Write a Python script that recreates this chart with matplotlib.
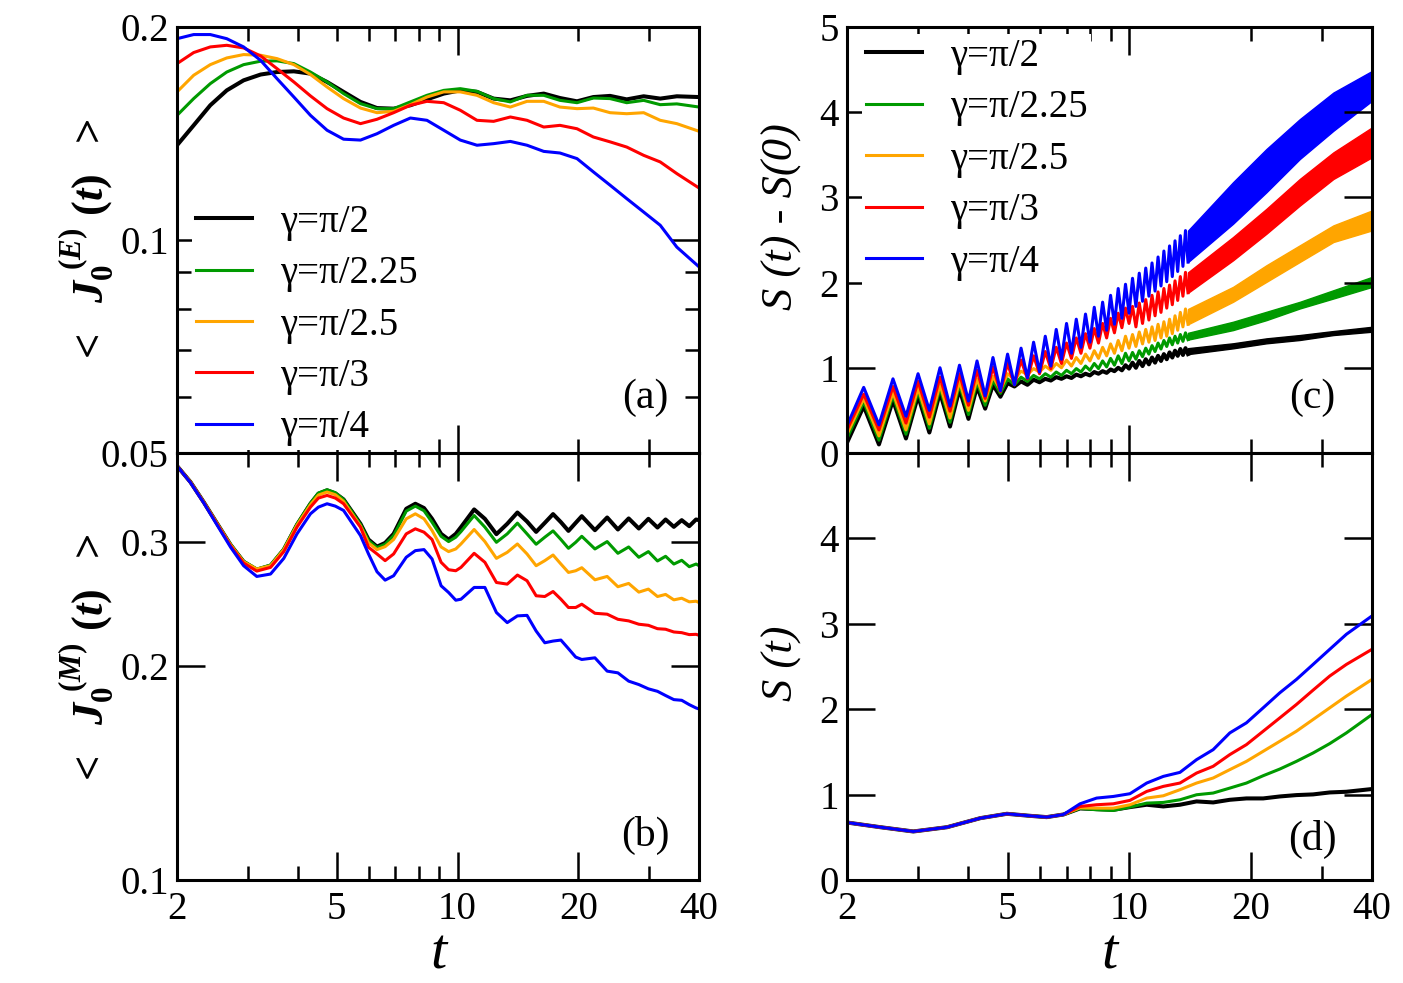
import matplotlib
matplotlib.use('Agg')
import matplotlib.pyplot as plt
from matplotlib.ticker import NullFormatter, NullLocator

plt.rcParams['font.family'] = ['Liberation Serif', 'DejaVu Serif']
plt.rcParams['mathtext.fontset'] = 'custom'
plt.rcParams['mathtext.rm'] = 'Liberation Serif:bold'
plt.rcParams['mathtext.it'] = 'Liberation Serif:italic:bold'
plt.rcParams['mathtext.bf'] = 'Liberation Serif:bold'

labels = ['γ=π/2', 'γ=π/2.25', 'γ=π/2.5', 'γ=π/3', 'γ=π/4']
colors = ['black', '#009a00', '#ffa500', '#ff0000', '#0000ff']
widths = [2.9, 2.2, 2.2, 2.2, 2.2]

# (a) <J0^(E)(t)>
t_a = [2.00, 2.20, 2.42, 2.66, 2.93, 3.23, 3.55, 3.91, 4.30, 4.73, 5.20, 5.73, 6.30, 6.93, 7.63, 8.39,
       9.24, 10.16, 11.18, 12.3, 13.54, 14.9, 16.4, 18.0, 19.85, 21.8, 24.0, 26.4, 29.1, 32.0, 35.2, 40.0]
a_black = [0.1361, 0.1452, 0.1550, 0.1627, 0.1681, 0.1713, 0.1727, 0.1731, 0.1718, 0.1672, 0.1619, 0.1567,
           0.1536, 0.1533, 0.1550, 0.1580, 0.1610, 0.1627, 0.1619, 0.1584, 0.1575, 0.1598, 0.1610, 0.1587,
           0.1570, 0.1592, 0.1598, 0.1580, 0.1596, 0.1584, 0.1596, 0.1592]
a_green = [0.1500, 0.1584, 0.1663, 0.1727, 0.1769, 0.1789, 0.1791, 0.1775, 0.1727, 0.1672, 0.1610, 0.1558,
           0.1533, 0.1533, 0.1567, 0.1601, 0.1627, 0.1636, 0.1622, 0.1584, 0.1567, 0.1601, 0.1601, 0.1575,
           0.1563, 0.1587, 0.1584, 0.1563, 0.1575, 0.1553, 0.1557, 0.1541]
a_orange = [0.1619, 0.1709, 0.1769, 0.1808, 0.1828, 0.1824, 0.1804, 0.1769, 0.1713, 0.1645, 0.1584, 0.1536,
            0.1513, 0.1520, 0.1553, 0.1592, 0.1619, 0.1619, 0.1601, 0.1563, 0.1541, 0.1570, 0.1570, 0.1541,
            0.1533, 0.1536, 0.1513, 0.1508, 0.1513, 0.1476, 0.1460, 0.1424]
a_red = [0.1775, 0.1840, 0.1874, 0.1884, 0.1868, 0.1820, 0.1746, 0.1672, 0.1598, 0.1533, 0.1487, 0.1460,
         0.1481, 0.1513, 0.1550, 0.1570, 0.1563, 0.1525, 0.1476, 0.1471, 0.1492, 0.1476, 0.1444, 0.1452,
         0.1436, 0.1398, 0.1376, 0.1353, 0.1317, 0.1289, 0.1241, 0.1184]
a_blue = [0.1925, 0.1951, 0.1951, 0.1925, 0.1874, 0.1794, 0.1690, 0.1592, 0.1500, 0.1429, 0.1388, 0.1384,
          0.1413, 0.1452, 0.1487, 0.1476, 0.1429, 0.1384, 0.1361, 0.1368, 0.1378, 0.1361, 0.1334, 0.1327,
          0.1303, 0.1248, 0.1195, 0.1144, 0.1095, 0.1049, 0.0977, 0.0916]

# (b) <J0^(M)(t)>
t_b = [2.0, 2.16, 2.33, 2.52, 2.72, 2.93, 3.16, 3.42, 3.69, 3.98, 4.3, 4.5, 4.73, 4.96, 5.2, 5.73, 6.0,
       6.3, 6.6, 6.93, 7.45, 7.85, 8.25, 8.64, 9.1, 9.5, 9.9, 10.2, 11.0, 11.7, 12.5, 13.3, 14.1, 14.9,
       15.7, 16.5, 17.3, 18.1, 18.9, 19.7, 20.4, 22.0, 23.6, 25.1, 26.7, 28.3, 29.9, 31.5, 33.0, 34.6,
       36.2, 37.8, 39.3, 40.0]
b_black = [0.3835, 0.3640, 0.3411, 0.3178, 0.2968, 0.2810, 0.2738, 0.2774, 0.2923, 0.3168, 0.3392, 0.3504,
           0.3543, 0.3508, 0.3440, 0.3178, 0.3020, 0.2951, 0.2987, 0.3076, 0.3337, 0.3392, 0.3345, 0.3230,
           0.3076, 0.3020, 0.3076, 0.3144, 0.3330, 0.3230, 0.3073, 0.3178, 0.3297, 0.3202, 0.3096, 0.3188,
           0.3280, 0.3195, 0.3106, 0.3188, 0.3258, 0.3113, 0.3244, 0.3120, 0.3234, 0.3130, 0.3230, 0.3140,
           0.3223, 0.3147, 0.3216, 0.3154, 0.3223, 0.3216]
b_green = [0.3835, 0.3640, 0.3411, 0.3178, 0.2971, 0.2814, 0.2744, 0.2780, 0.2929, 0.3175, 0.3399, 0.3512,
           0.3550, 0.3516, 0.3440, 0.3171, 0.3010, 0.2942, 0.2974, 0.3059, 0.3312, 0.3366, 0.3316, 0.3195,
           0.3052, 0.3000, 0.3043, 0.3099, 0.3265, 0.3144, 0.2993, 0.3076, 0.3185, 0.3076, 0.2974, 0.3043,
           0.3106, 0.3020, 0.2935, 0.2993, 0.3052, 0.2929, 0.3000, 0.2888, 0.2948, 0.2851, 0.2904, 0.2817,
           0.2860, 0.2789, 0.2823, 0.2765, 0.2789, 0.2774]
b_orange = [0.3835, 0.3640, 0.3411, 0.3178, 0.2968, 0.2810, 0.2744, 0.2774, 0.2923, 0.3164, 0.3381, 0.3489,
            0.3524, 0.3493, 0.3418, 0.3154, 0.2987, 0.2923, 0.2951, 0.3020, 0.3230, 0.3283, 0.3230, 0.3110,
            0.2948, 0.2904, 0.2929, 0.2977, 0.3120, 0.3000, 0.2841, 0.2897, 0.2977, 0.2882, 0.2774, 0.2820,
            0.2872, 0.2789, 0.2714, 0.2729, 0.2756, 0.2650, 0.2679, 0.2591, 0.2619, 0.2546, 0.2571, 0.2510,
            0.2527, 0.2483, 0.2496, 0.2467, 0.2472, 0.2461]
b_red = [0.3835, 0.3636, 0.3407, 0.3171, 0.2958, 0.2798, 0.2726, 0.2759, 0.2904, 0.3144, 0.3355, 0.3455,
         0.3485, 0.3455, 0.3392, 0.3144, 0.2945, 0.2882, 0.2820, 0.2882, 0.3076, 0.3127, 0.3093, 0.3020,
         0.2805, 0.2738, 0.2729, 0.2759, 0.2888, 0.2805, 0.2627, 0.2613, 0.2691, 0.2642, 0.2516, 0.2510,
         0.2551, 0.2488, 0.2422, 0.2422, 0.2448, 0.2377, 0.2370, 0.2331, 0.2319, 0.2294, 0.2286, 0.2261,
         0.2257, 0.2237, 0.2232, 0.2218, 0.2220, 0.2213]
b_blue = [0.3835, 0.3632, 0.3403, 0.3161, 0.2945, 0.2774, 0.2679, 0.2700, 0.2841, 0.3076, 0.3283, 0.3355,
          0.3392, 0.3366, 0.3319, 0.3059, 0.2882, 0.2720, 0.2647, 0.2685, 0.2851, 0.2913, 0.2923, 0.2835,
          0.2599, 0.2543, 0.2480, 0.2488, 0.2585, 0.2585, 0.2383, 0.2306, 0.2357, 0.2361, 0.2244, 0.2160,
          0.2172, 0.2179, 0.2119, 0.2062, 0.2046, 0.2057, 0.1970, 0.1959, 0.1907, 0.1886, 0.1860, 0.1845,
          0.1820, 0.1796, 0.1792, 0.1767, 0.1748, 0.1742]

# (c) S(t)-S(0): single teeth up to t=14, then a dense band (lower/upper edge)
t_teeth = [2.0, 2.2, 2.4, 2.6, 2.8, 3.0, 3.2, 3.4, 3.6, 3.8, 4.0, 4.2, 4.4, 4.6, 4.8, 5.0, 5.2, 5.4, 5.6,
           5.8, 6.0, 6.2, 6.4, 6.6, 6.8, 7.0, 7.2, 7.4, 7.6, 7.8, 8.0, 8.2, 8.4, 8.6, 8.8, 9.0, 9.2, 9.4,
           9.6, 9.8, 10.0, 10.2, 10.4, 10.6, 10.8, 11.0, 11.2, 11.4, 11.6, 11.8, 12.0, 12.2, 12.4, 12.6,
           12.8, 13.0, 13.2, 13.4, 13.6, 13.8, 14.0]
c_black = [0.12, 0.55, 0.10, 0.62, 0.17, 0.67, 0.24, 0.71, 0.31, 0.75, 0.40, 0.78, 0.52, 0.80, 0.66, 0.82,
           0.78, 0.84, 0.80, 0.86, 0.83, 0.87, 0.85, 0.89, 0.87, 0.90, 0.88, 0.92, 0.90, 0.93, 0.91, 0.95,
           0.93, 0.96, 0.94, 0.98, 0.96, 1.00, 0.97, 1.03, 0.99, 1.06, 1.00, 1.08, 1.02, 1.10, 1.04, 1.12,
           1.06, 1.14, 1.08, 1.16, 1.10, 1.18, 1.12, 1.20, 1.14, 1.22, 1.15, 1.23, 1.16]
c_green = [0.17, 0.60, 0.15, 0.67, 0.22, 0.72, 0.29, 0.76, 0.36, 0.80, 0.45, 0.83, 0.56, 0.85, 0.70, 0.87,
           0.80, 0.89, 0.84, 0.91, 0.87, 0.93, 0.89, 0.95, 0.91, 0.97, 0.93, 0.99, 0.95, 1.02, 0.97, 1.05,
           0.99, 1.08, 1.01, 1.11, 1.03, 1.14, 1.05, 1.17, 1.08, 1.18, 1.10, 1.20, 1.13, 1.23, 1.16, 1.26,
           1.19, 1.29, 1.22, 1.32, 1.25, 1.35, 1.27, 1.37, 1.29, 1.39, 1.31, 1.41, 1.33]
c_orange = [0.22, 0.64, 0.20, 0.71, 0.27, 0.76, 0.34, 0.80, 0.41, 0.84, 0.50, 0.87, 0.61, 0.90, 0.74, 0.93,
            0.86, 0.96, 0.92, 0.99, 0.95, 1.02, 0.97, 1.05, 1.00, 1.09, 1.02, 1.12, 1.05, 1.16, 1.08, 1.20,
            1.11, 1.24, 1.14, 1.28, 1.17, 1.32, 1.20, 1.37, 1.23, 1.39, 1.25, 1.42, 1.28, 1.45, 1.30, 1.48,
            1.32, 1.51, 1.35, 1.54, 1.37, 1.57, 1.40, 1.61, 1.44, 1.65, 1.48, 1.69, 1.51]
c_red = [0.27, 0.69, 0.27, 0.78, 0.35, 0.84, 0.42, 0.89, 0.49, 0.93, 0.56, 0.97, 0.64, 1.01, 0.72, 1.05,
         0.80, 1.09, 0.87, 1.14, 0.93, 1.19, 0.99, 1.24, 1.05, 1.29, 1.11, 1.35, 1.17, 1.40, 1.23, 1.46,
         1.29, 1.52, 1.35, 1.58, 1.41, 1.64, 1.47, 1.70, 1.52, 1.72, 1.48, 1.76, 1.52, 1.80, 1.56, 1.85,
         1.61, 1.89, 1.65, 1.93, 1.70, 1.97, 1.74, 2.02, 1.79, 2.07, 1.84, 2.12, 1.88]
c_blue = [0.32, 0.77, 0.33, 0.87, 0.43, 0.93, 0.50, 1.00, 0.55, 1.03, 0.61, 1.08, 0.67, 1.12, 0.73, 1.16,
          0.80, 1.23, 0.88, 1.30, 0.95, 1.37, 1.02, 1.45, 1.10, 1.52, 1.17, 1.57, 1.24, 1.63, 1.30, 1.71,
          1.37, 1.77, 1.44, 1.85, 1.51, 1.93, 1.58, 1.98, 1.64, 2.05, 1.72, 2.11, 1.78, 2.17, 1.84, 2.23,
          1.90, 2.30, 1.96, 2.37, 2.01, 2.43, 2.07, 2.49, 2.13, 2.55, 2.19, 2.61, 2.24]
t_band = [14.0, 18.1, 21.9, 26.5, 32.1, 40.0]
c_black_lo = [1.16, 1.228, 1.287, 1.326, 1.384, 1.423]
c_black_hi = [1.23, 1.287, 1.345, 1.384, 1.431, 1.481]
c_green_lo = [1.33, 1.442, 1.559, 1.696, 1.813, 1.949]
c_green_hi = [1.41, 1.540, 1.657, 1.774, 1.910, 2.066]
c_orange_lo = [1.51, 1.774, 2.008, 2.242, 2.476, 2.612]
c_orange_hi = [1.69, 1.949, 2.203, 2.437, 2.671, 2.846]
c_red_lo = [1.88, 2.261, 2.573, 2.904, 3.216, 3.470]
c_red_hi = [2.12, 2.534, 2.865, 3.216, 3.528, 3.821]
c_blue_lo = [2.24, 2.690, 3.060, 3.450, 3.782, 4.133]
c_blue_hi = [2.61, 3.177, 3.567, 3.918, 4.230, 4.483]

# (d) S(t)
t_d = [2.0, 2.42, 2.92, 3.54, 4.28, 4.98, 5.69, 6.25, 6.88, 7.56, 8.31, 9.14, 10.05, 11.06, 12.16, 13.37,
       14.7, 16.16, 17.77, 19.54, 21.5, 23.64, 25.99, 28.58, 31.43, 34.56, 40.0]
d_early = [0.673, 0.618, 0.568, 0.618, 0.724, 0.775, 0.751, 0.736, 0.767]
d_black = d_early + [0.838, 0.830, 0.822, 0.853, 0.881, 0.861, 0.881, 0.920, 0.908, 0.939, 0.955, 0.955,
                     0.978, 0.994, 1.002, 1.025, 1.033, 1.065]
d_green = d_early + [0.838, 0.822, 0.814, 0.853, 0.900, 0.908, 0.939, 0.998, 1.018, 1.076, 1.135, 1.221,
                     1.299, 1.389, 1.487, 1.597, 1.722, 1.937]
d_orange = d_early + [0.845, 0.841, 0.841, 0.881, 0.959, 0.986, 1.057, 1.135, 1.194, 1.292, 1.389, 1.507,
                      1.624, 1.742, 1.879, 2.016, 2.153, 2.348]
d_red = d_early + [0.861, 0.881, 0.892, 0.932, 1.037, 1.096, 1.135, 1.252, 1.331, 1.468, 1.585, 1.742,
                   1.898, 2.055, 2.223, 2.388, 2.524, 2.701]
d_blue = d_early + [0.892, 0.959, 0.978, 1.010, 1.135, 1.213, 1.260, 1.409, 1.526, 1.722, 1.840, 2.016,
                    2.192, 2.348, 2.524, 2.701, 2.877, 3.092]

FS = 28

fig = plt.figure(figsize=(14.03, 9.83), dpi=100)
ax_a = fig.add_axes([0.1262, 0.5392, 0.3721, 0.4334])
ax_b = fig.add_axes([0.1262, 0.1048, 0.3721, 0.4344])
ax_c = fig.add_axes([0.6037, 0.5392, 0.3742, 0.4334])
ax_d = fig.add_axes([0.6037, 0.1048, 0.3742, 0.4344])


def style_x(ax, bottom):
    ax.set_xscale('log')
    ax.set_xlim(2, 40)
    if bottom:
        ax.set_xticks([2, 5, 10, 20, 40])
        ax.set_xticklabels(['2', '5', '10', '20', '40'])
        ax.set_xticks([3, 4, 6, 7, 8, 9, 30], minor=True)
    else:
        ax.set_xticks([10])
        ax.set_xticks([3, 4, 5, 6, 7, 8, 9, 20, 30], minor=True)
    ax.xaxis.set_minor_formatter(NullFormatter())
    ax.tick_params(axis='x', labelbottom=bottom, pad=8)
    ax.tick_params(which='both', direction='in', top=True, right=True, width=1.8, labelsize=FS)
    ax.tick_params(which='major', length=20)
    ax.tick_params(which='minor', length=10)
    ax.tick_params(axis='y', pad=6)
    for s in ax.spines.values():
        s.set_linewidth(2.2)


for ax in (ax_a, ax_c):
    style_x(ax, False)
for ax in (ax_b, ax_d):
    style_x(ax, True)

# panel a
for y, c, lw, lab in zip([a_black, a_green, a_orange, a_red, a_blue], colors, widths, labels):
    ax_a.plot(t_a, y, color=c, lw=lw, label=lab)
ax_a.set_yscale('log')
ax_a.set_ylim(0.05, 0.2)
ax_a.set_yticks([0.05, 0.1, 0.2])
ax_a.set_yticklabels(['0.05', '0.1', '0.2'])
ax_a.set_yticks([0.06, 0.07, 0.08, 0.09], minor=True)
ax_a.yaxis.set_minor_formatter(NullFormatter())
ax_a.set_ylabel(r'$<\ \ J_{\mathit{0}}^{\ (E)}\ (t)\ \ >$', fontsize=32)
ax_a.yaxis.set_label_coords(-0.115, 0.495)

# panel b
for y, c, lw in zip([b_black, b_green, b_orange, b_red, b_blue], colors, widths):
    ax_b.plot(t_b, y, color=c, lw=lw)
ax_b.set_yscale('log')
ax_b.set_ylim(0.1, 0.4)
ax_b.set_yticks([0.1, 0.2, 0.3])
ax_b.set_yticklabels(['0.1', '0.2', '0.3'])
ax_b.yaxis.set_minor_locator(NullLocator())
ax_b.set_ylabel(r'$<\ \ J_{\mathit{0}}^{\ (M)}\ (t)\ \ >$', fontsize=32)
ax_b.yaxis.set_label_coords(-0.115, 0.515)
ax_b.set_xlabel('t', fontsize=42, fontstyle='italic', labelpad=0)

# panel c
c_teeth = [c_black, c_green, c_orange, c_red, c_blue]
c_lo = [c_black_lo, c_green_lo, c_orange_lo, c_red_lo, c_blue_lo]
c_hi = [c_black_hi, c_green_hi, c_orange_hi, c_red_hi, c_blue_hi]
for y, lo, hi, c, lw, lab in zip(c_teeth, c_lo, c_hi, colors, widths, labels):
    ax_c.plot(t_teeth, y, color=c, lw=lw, label=lab)
    ax_c.fill_between(t_band, lo, hi, color=c, lw=1.0)
ax_c.set_ylim(0, 5)
ax_c.set_yticks([0, 1, 2, 3, 4, 5])
ax_c.set_yticklabels(['0', '1', '2', '3', '4', '5'])
ax_c.set_ylabel('S (t) - S(0)', fontsize=32, fontstyle='italic')
ax_c.yaxis.set_label_coords(-0.085, 0.554)

# panel d
for y, c, lw in zip([d_black, d_green, d_orange, d_red, d_blue], colors, widths):
    ax_d.plot(t_d, y, color=c, lw=lw)
ax_d.set_ylim(0, 5)
ax_d.set_yticks([0, 1, 2, 3, 4])
ax_d.set_yticklabels(['0', '1', '2', '3', '4'])
ax_d.set_ylabel('S (t)', fontsize=32, fontstyle='italic')
ax_d.yaxis.set_label_coords(-0.085, 0.508)
ax_d.set_xlabel('t', fontsize=42, fontstyle='italic', labelpad=0)

leg_kw = dict(loc='upper left', frameon=True, fancybox=False, edgecolor='none', facecolor='white',
              framealpha=1, borderpad=0.1, handlelength=1.45, handletextpad=0.7, labelspacing=0.37,
              fontsize=FS, borderaxespad=0)
ax_a.legend(bbox_to_anchor=(0.029, 0.594), **leg_kw)
ax_c.legend(bbox_to_anchor=(0.029, 0.983), **leg_kw)

for ax, lab, x, y in [(ax_a, '(a)', 0.897, 0.13), (ax_b, '(b)', 0.897, 0.105),
                      (ax_c, '(c)', 0.886, 0.13), (ax_d, '(d)', 0.886, 0.094)]:
    ax.text(x, y, lab, transform=ax.transAxes, fontsize=30, ha='center', va='center')

fig.savefig('out.png', dpi=100)
